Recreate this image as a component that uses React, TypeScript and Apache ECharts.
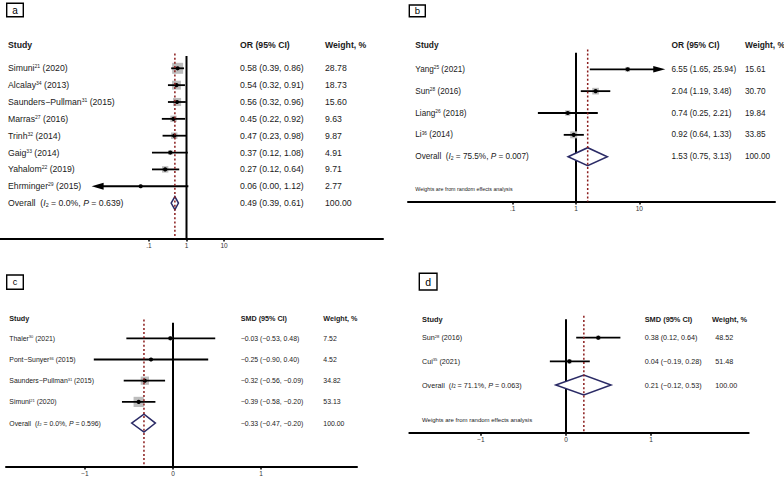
import React, { useEffect, useRef } from "react";
import * as echarts from "echarts";

// ---------- Panel a (OR) ----------
const studiesA = ["Simuni", "Alcalay", "Saunders−Pullman", "Marras", "Trinh", "Gaig", "Yahalom", "Ehrminger"];
const refsA = ["21", "34", "31", "27", "32", "33", "22", "29"];
const yearsA = ["2020", "2013", "2015", "2016", "2014", "2014", "2019", "2015"];
const estA = [0.58, 0.54, 0.56, 0.45, 0.47, 0.37, 0.27, 0.06];
const lowA = [0.39, 0.32, 0.32, 0.22, 0.23, 0.12, 0.12, 0.0];
const highA = [0.86, 0.91, 0.96, 0.92, 0.98, 1.08, 0.64, 1.12];
const weightA = [28.78, 18.73, 15.6, 9.63, 9.87, 4.91, 9.71, 2.77];
const overallA = [0.49, 0.39, 0.61, 100.0];
const hetA = ["0.0%", "0.639"];
const tickValuesA = [0.1, 1, 10];
const tickLabelsA = [".1", "1", "10"];

// ---------- Panel b (OR) ----------
const studiesB = ["Yang", "Sun", "Liang", "Li"];
const refsB = ["25", "28", "26", "36"];
const yearsB = ["2021", "2016", "2018", "2014"];
const estB = [6.55, 2.04, 0.74, 0.92];
const lowB = [1.65, 1.19, 0.25, 0.64];
const highB = [25.94, 3.48, 2.21, 1.33];
const weightB = [15.61, 30.7, 19.84, 33.85];
const overallB = [1.53, 0.75, 3.13, 100.0];
const hetB = ["75.5%", "0.007"];
const tickValuesB = [0.1, 1, 10];
const tickLabelsB = [".1", "1", "10"];

// ---------- Panel c (SMD) ----------
const studiesC = ["Thaler", "Pont−Sunyer", "Saunders−Pullman", "Simuni"];
const refsC = ["30", "36", "31", "21"];
const yearsC = ["2021", "2015", "2015", "2020"];
const estC = [-0.03, -0.25, -0.32, -0.39];
const lowC = [-0.53, -0.9, -0.56, -0.58];
const highC = [0.48, 0.4, -0.09, -0.2];
const weightC = [7.52, 4.52, 34.82, 53.13];
const overallC = [-0.33, -0.47, -0.2, 100.0];
const hetC = ["0.0%", "0.596"];
const tickValuesC = [-1, 0, 1];
const tickLabelsC = ["−1", "0", "1"];

// ---------- Panel d (SMD) ----------
const studiesD = ["Sun", "Cui"];
const refsD = ["28", "35"];
const yearsD = ["2016", "2021"];
const estD = [0.38, 0.04];
const lowD = [0.12, -0.19];
const highD = [0.64, 0.28];
const weightD = [48.52, 51.48];
const overallD = [0.21, -0.12, 0.53, 100.0];
const hetD = ["71.1%", "0.063"];
const tickValuesD = [-1, 0, 1];
const tickLabelsD = ["−1", "0", "1"];

const FONT = '"Liberation Sans", Arial, Helvetica, sans-serif';
const TEXT = "#1a1a1a";

type PanelData = {
  studies: string[]; refs: string[]; years: string[];
  est: number[]; low: number[]; high: number[]; weight: number[];
  overall: number[]; het: string[];
  tickValues: number[]; tickLabels: string[];
  log: boolean; measure: string; note: boolean;
};

type Layout = {
  left: number; right: number; top: number; bottom: number;
  zeroX: number; unit: number;
  rowY0: number; rowStep: number; headerY: number; noteY: number;
  colStudy: number; colCI: number; colWtHead: number; colWt: number;
  fs: number; hfs: number; nfs: number;
  sqK: number; diaH: number; clipLo: number; clipHi: number;
  box: number[]; boxLabel: string; boxFs: number;
};

const panelData: PanelData[] = [
  { studies: studiesA, refs: refsA, years: yearsA, est: estA, low: lowA, high: highA, weight: weightA, overall: overallA, het: hetA, tickValues: tickValuesA, tickLabels: tickLabelsA, log: true, measure: "OR (95% CI)", note: false },
  { studies: studiesB, refs: refsB, years: yearsB, est: estB, low: lowB, high: highB, weight: weightB, overall: overallB, het: hetB, tickValues: tickValuesB, tickLabels: tickLabelsB, log: true, measure: "OR (95% CI)", note: true },
  { studies: studiesC, refs: refsC, years: yearsC, est: estC, low: lowC, high: highC, weight: weightC, overall: overallC, het: hetC, tickValues: tickValuesC, tickLabels: tickLabelsC, log: false, measure: "SMD (95% CI)", note: false },
  { studies: studiesD, refs: refsD, years: yearsD, est: estD, low: lowD, high: highD, weight: weightD, overall: overallD, het: hetD, tickValues: tickValuesD, tickLabels: tickLabelsD, log: false, measure: "SMD (95% CI)", note: true },
];

const layouts: Layout[] = [
  { left: 0, right: 383, top: 56, bottom: 238.5, zeroX: 186.5, unit: 37.5, rowY0: 68.3, rowStep: 16.85, headerY: 45, noteY: 0,
    colStudy: 8, colCI: 240, colWtHead: 325, colWt: 325, fs: 8.7, hfs: 8.7, nfs: 5.3,
    sqK: 2.05, diaH: 6.5, clipLo: -2.53, clipHi: 9, box: [6.7, 3.3, 16.6, 13.4], boxLabel: "a", boxFs: 10 },
  { left: 408, right: 775, top: 52.7, bottom: 201.5, zeroX: 576, unit: 63.3, rowY0: 69.3, rowStep: 21.85, headerY: 45, noteY: 189.3,
    colStudy: 415.3, colCI: 671.5, colWtHead: 745, colWt: 745, fs: 8.2, hfs: 8.4, nfs: 5.3,
    sqK: 1.2, diaH: 9, clipLo: -9, clipHi: 1.41, box: [409.3, 5, 16, 11.7], boxLabel: "b", boxFs: 9.5 },
  { left: 6, right: 357, top: 322.7, bottom: 466.5, zeroX: 173, unit: 88, rowY0: 338.3, rowStep: 21.2, headerY: 318.3, noteY: 0,
    colStudy: 9.3, colCI: 240.7, colWtHead: 323.3, colWt: 323.3, fs: 6.9, hfs: 7.2, nfs: 5.3,
    sqK: 1.4, diaH: 9, clipLo: -9, clipHi: 9, box: [6.7, 275, 16.6, 14.3], boxLabel: "c", boxFs: 9 },
  { left: 409.3, right: 748.7, top: 319.3, bottom: 432.7, zeroX: 566, unit: 85, rowY0: 337.7, rowStep: 23.65, headerY: 319, noteY: 420.3,
    colStudy: 422, colCI: 644.7, colWtHead: 712, colWt: 715.3, fs: 7.2, hfs: 7.4, nfs: 6.0,
    sqK: 0.6, diaH: 10, clipLo: -9, clipHi: 9, box: [419.3, 273.3, 17.7, 16.7], boxLabel: "d", boxFs: 10.5 },
];

function fmt(v: number): string {
  return (v < 0 ? "−" : "") + Math.abs(v).toFixed(2);
}

function buildOption() {
  const grid: any[] = [];
  const xAxis: any[] = [];
  const yAxis: any[] = [];
  const series: any[] = [];
  const graphic: any[] = [];

  panelData.forEach((d, k) => {
    const l = layouts[k];
    const tf = (v: number) => (d.log ? (v > 0 ? Math.log10(v) : -Infinity) : v);
    const rowOf = (py: number) => (py - l.rowY0) / l.rowStep;
    const yMin = rowOf(l.top);
    const yMax = rowOf(l.bottom);
    const xMin = (l.left - l.zeroX) / l.unit;
    const xMax = (l.right - l.zeroX) / l.unit;
    const tickT = d.tickValues.map(tf);
    const n = d.studies.length;

    grid.push({ left: l.left, top: l.top, width: l.right - l.left, height: l.bottom - l.top, containLabel: false });
    xAxis.push({
      type: "value", gridIndex: k, min: xMin, max: xMax,
      axisLine: { show: true, onZero: false, lineStyle: { color: "#000", width: 2 } },
      axisTick: { show: true, customValues: tickT, length: 3, lineStyle: { color: "#000", width: 1.5 } },
      axisLabel: {
        show: true, customValues: tickT, fontSize: 6.5, color: "#333", margin: 3, fontFamily: FONT,
        formatter: (v: number) => {
          const j = tickT.findIndex((t) => Math.abs(t - v) < 1e-6);
          return j >= 0 ? d.tickLabels[j] : "";
        },
      },
      splitLine: { show: false },
    });
    yAxis.push({ type: "value", gridIndex: k, inverse: true, min: yMin, max: yMax, show: false });

    const common = { type: "custom", xAxisIndex: k, yAxisIndex: k, silent: true, clip: false };

    // null line
    series.push({
      ...common, z: 2, data: [[0, 0]],
      renderItem: (_p: any, api: any) => {
        const a = api.coord([0, yMin]);
        const b = api.coord([0, yMax]);
        return { type: "line", shape: { x1: a[0], y1: a[1], x2: b[0], y2: b[1] }, style: { stroke: "#000", lineWidth: 2 } };
      },
    });

    // studies
    const studyData = d.studies.map((_, i) => {
      const lo = tf(d.low[i]);
      const hi = tf(d.high[i]);
      return [tf(d.est[i]), Math.max(lo, l.clipLo), Math.min(hi, l.clipHi), d.weight[i], i, lo < l.clipLo ? 1 : 0, hi > l.clipHi ? 1 : 0];
    });
    series.push({
      ...common, z: 3, data: studyData, encode: { x: 0, y: 4 },
      renderItem: (_p: any, api: any) => {
        const row = api.value(4);
        const pe = api.coord([api.value(0), row]);
        const pl = api.coord([api.value(1), row]);
        const ph = api.coord([api.value(2), row]);
        const y = pe[1];
        const s = l.sqK * Math.sqrt(api.value(3));
        const arrL = api.value(5) === 1;
        const arrR = api.value(6) === 1;
        const children: any[] = [
          { type: "rect", shape: { x: pe[0] - s / 2, y: y - s / 2, width: s, height: s }, style: { fill: "#bdbdbd" } },
          { type: "line", shape: { x1: pl[0] + (arrL ? 6 : 0), y1: y, x2: ph[0] - (arrR ? 6 : 0), y2: y }, style: { stroke: "#000", lineWidth: 1.8 } },
        ];
        if (arrL) {
          children.push({ type: "polygon", shape: { points: [[pl[0], y], [pl[0] + 12, y - 3.6], [pl[0] + 12, y + 3.6]] }, style: { fill: "#000" } });
        }
        if (arrR) {
          children.push({ type: "polygon", shape: { points: [[ph[0], y], [ph[0] - 12, y - 3.3], [ph[0] - 12, y + 3.3]] }, style: { fill: "#000" } });
        }
        children.push({ type: "circle", shape: { cx: pe[0], cy: y, r: 2.1 }, style: { fill: "#000" } });
        return { type: "group", children };
      },
    });

    // overall diamond
    series.push({
      ...common, z: 4, data: [[tf(d.overall[0]), tf(d.overall[1]), tf(d.overall[2]), n]], encode: { x: 0, y: 3 },
      renderItem: (_p: any, api: any) => {
        const row = api.value(3);
        const pe = api.coord([api.value(0), row]);
        const pl = api.coord([api.value(1), row]);
        const ph = api.coord([api.value(2), row]);
        const y = pe[1];
        const h = l.diaH;
        return {
          type: "polygon",
          shape: { points: [[pl[0], y], [pe[0], y - h], [ph[0], y], [pe[0], y + h]] },
          style: { fill: "#fff", stroke: "#2b2b66", lineWidth: 1.5 },
        };
      },
    });

    // overall dashed line
    series.push({
      ...common, z: 5, data: [[tf(d.overall[0]), 0]],
      renderItem: (_p: any, api: any) => {
        const a = api.coord([api.value(0), yMin - 0.15]);
        const b = api.coord([api.value(0), yMax]);
        return { type: "line", shape: { x1: a[0], y1: a[1], x2: b[0], y2: b[1] }, style: { stroke: "#8b1c1c", lineWidth: 1.5, lineDash: [2, 2.2] } };
      },
    });

    // texts
    type Row = { row: number; cells: [number, string][]; fs: number; bold?: boolean };
    const rows: Row[] = [];
    rows.push({ row: rowOf(l.headerY), fs: l.hfs, bold: true, cells: [[l.colStudy, "Study"], [l.colCI, d.measure], [l.colWtHead, "Weight, %"]] });
    d.studies.forEach((s, i) => {
      rows.push({
        row: i, fs: l.fs,
        cells: [
          [l.colStudy, `${s}{sup|${d.refs[i]}} (${d.years[i]})`],
          [l.colCI, `${fmt(d.est[i])} (${fmt(d.low[i])}, ${fmt(d.high[i])})`],
          [l.colWt, d.weight[i].toFixed(2)],
        ],
      });
    });
    rows.push({
      row: n, fs: l.fs,
      cells: [
        [l.colStudy, `Overall  ({it|I}{sub|2} = ${d.het[0]}, {it|P} = ${d.het[1]})`],
        [l.colCI, `${fmt(d.overall[0])} (${fmt(d.overall[1])}, ${fmt(d.overall[2])})`],
        [l.colWt, d.overall[3].toFixed(2)],
      ],
    });
    if (d.note) {
      rows.push({ row: rowOf(l.noteY), fs: l.nfs, cells: [[l.colStudy, "Weights are from random effects analysis"]] });
    }
    series.push({
      ...common, z: 6, data: rows.map((r) => [0, r.row]), encode: { x: 0, y: 1 },
      renderItem: (p: any, api: any) => {
        const r = rows[p.dataIndex];
        const y = api.coord([0, r.row])[1];
        const fs = r.fs;
        return {
          type: "group",
          children: r.cells.map(([x, txt]) => ({
            type: "text",
            style: {
              text: txt, x, y, fill: TEXT, fontSize: fs, fontFamily: FONT,
              fontWeight: r.bold ? "bold" : "normal",
              align: "left", verticalAlign: "middle", textAlign: "left", textVerticalAlign: "middle",
              rich: {
                sup: { fontSize: fs * 0.58, fontFamily: FONT, fill: TEXT, verticalAlign: "top" },
                sub: { fontSize: fs * 0.62, fontFamily: FONT, fill: TEXT, verticalAlign: "bottom" },
                it: { fontSize: fs, fontFamily: FONT, fill: TEXT, fontStyle: "italic" },
              },
            },
          })),
        };
      },
    });

    // panel label box
    const [bx, by, bw, bh] = l.box;
    graphic.push({ type: "rect", shape: { x: bx, y: by, width: bw, height: bh }, style: { fill: "#fff", stroke: "#000", lineWidth: 1.4 }, z: 10 });
    graphic.push({
      type: "text", z: 11,
      style: { text: l.boxLabel, x: bx + bw / 2, y: by + bh / 2, fill: "#000", fontSize: l.boxFs, fontFamily: FONT, align: "center", verticalAlign: "middle", textAlign: "center", textVerticalAlign: "middle" },
    });
  });

  return { animation: false, backgroundColor: "#fff", grid, xAxis, yAxis, series, graphic };
}

export default function App() {
  const ref = useRef<HTMLDivElement>(null);
  useEffect(() => {
    if (!ref.current) return;
    const chart = echarts.init(ref.current, undefined, { renderer: "svg" });
    chart.setOption(buildOption() as any);
    return () => chart.dispose();
  }, []);
  return <div ref={ref} style={{ position: "absolute", left: 0, top: 0, width: 784, height: 478 }} />;
}
